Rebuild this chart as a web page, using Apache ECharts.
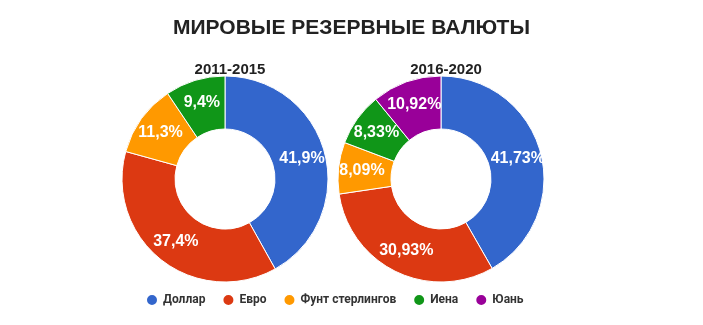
<!DOCTYPE html>
<html lang="ru">
<head>
<meta charset="UTF-8">
<title>Мировые резервные валюты</title>
<script src="https://cdn.jsdelivr.net/npm/echarts@6/dist/echarts.min.js"></script>
<style>
  body { margin: 0; background: #fff; overflow: hidden; }
  #chart { width: 703px; height: 325px; }
</style>
</head>
<body>
<div id="chart"></div>
<script>
// валюты и доли (%)
const currencies = ['Доллар', 'Евро', 'Фунт стерлингов', 'Иена', 'Юань']
const colors = ['#3366cc', '#dc3912', '#ff9900', '#109618', '#990099']
const share2011 = [41.9, 37.4, 11.3, 9.4]
const share2016 = [41.73, 30.93, 8.09, 8.33, 10.92]
const periods = ['2011-2015', '2016-2020']

const FONT = 'Liberation Sans, Arial, sans-serif'
const fmt = v => String(v).replace('.', ',') + '%'

function toData(values) {
  return values.map((v, i) => ({
    name: currencies[i],
    value: v,
    itemStyle: { color: colors[i] }
  }))
}

function pieSeries(values, cx) {
  return {
    type: 'pie',
    center: [cx, 179],
    radius: [50, 103],
    startAngle: 90,
    clockwise: true,
    avoidLabelOverlap: false,
    itemStyle: { borderColor: '#fff', borderWidth: 1 },
    label: {
      position: 'inside',
      color: '#fff',
      fontFamily: FONT,
      fontWeight: 'bold',
      fontSize: 16,
      formatter: p => fmt(p.value)
    },
    labelLine: { show: false },
    emphasis: { disabled: true },
    data: toData(values)
  }
}

const chart = echarts.init(document.getElementById('chart'))
chart.setOption({
  animation: false,
  title: [
    {
      text: 'МИРОВЫЕ РЕЗЕРВНЫЕ ВАЛЮТЫ',
      left: 'center', top: 13,
      textStyle: { fontFamily: FONT, fontSize: 21, fontWeight: 'bold', color: '#222' }
    },
    {
      text: periods[0], left: 225, top: 57, textAlign: 'center',
      textStyle: { fontFamily: FONT, fontSize: 15, fontWeight: 'bold', color: '#222' }
    },
    {
      text: periods[1], left: 441, top: 57, textAlign: 'center',
      textStyle: { fontFamily: FONT, fontSize: 15, fontWeight: 'bold', color: '#222' }
    }
  ],
  legend: {
    data: currencies,
    bottom: 13,
    left: 140,
    icon: 'circle',
    itemWidth: 12,
    itemHeight: 12,
    itemGap: 16,
    textStyle: { fontFamily: 'Roboto, sans-serif', fontSize: 12, fontWeight: 'bold', color: '#333' }
  },
  series: [pieSeries(share2011, 225), pieSeries(share2016, 441)]
})
</script>
</body>
</html>
